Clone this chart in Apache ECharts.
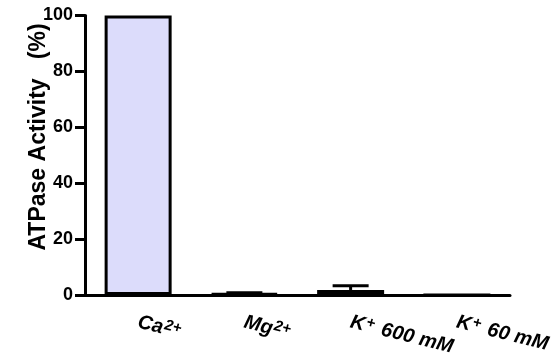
<!DOCTYPE html>
<html>
<head>
<meta charset="utf-8">
<script src="https://cdn.jsdelivr.net/npm/echarts@6/dist/echarts.min.js"></script>
<style>
html, body { margin: 0; padding: 0; background: #fff; }
#chart { width: 551px; height: 358px; }
</style>
</head>
<body>
<div id="chart"></div>
<script>
// 数据
var catBase = ['Ca', 'Mg', 'K', 'K'];
var catSup = ['2+', '2+', '+', '+'];
var catTail = ['', '', ' 600 mM', ' 60 mM'];
var activity = [100, 0.5, 1.8, 0];
var activityErr = [0, 0.3, 1.5, 0];
var yTicks = [0, 20, 40, 60, 80, 100];

var font = "'Liberation Sans', Arial, sans-serif";
var chart = echarts.init(document.getElementById('chart'));

var categories = [];
var errData = [];
for (var i = 0; i < catBase.length; i++) {
	categories.push(catBase[i] + catSup[i] + catTail[i]);
	errData.push([i, activity[i], activityErr[i]]);
}

// 误差线
function renderErr(params, api) {
	var e = api.value(2);
	if (!(e > 0)) return null;
	var base = api.coord([api.value(0), api.value(1)]);
	var top = api.coord([api.value(0), api.value(1) + e]);
	var lineStyle = {stroke: '#000', lineWidth: 3};
	return {
		type: 'group',
		children: [
			{type: 'line', shape: {x1: base[0], y1: base[1], x2: top[0], y2: top[1]}, style: lineStyle},
			{type: 'line', shape: {x1: top[0] - 18, y1: top[1], x2: top[0] + 18, y2: top[1]}, style: lineStyle}
		]
	};
}

var option = {
	animation: false,
	grid: {left: 85, right: 41, top: 15.5, bottom: 63, containLabel: false, outerBoundsMode: 'none'},
	xAxis: {
		type: 'category',
		data: categories,
		axisLine: {lineStyle: {color: '#000', width: 3}},
		axisTick: {alignWithLabel: true, length: 9, lineStyle: {color: '#000', width: 3}},
		axisLabel: {
			rotate: -14,
			margin: 27,
			formatter: function (v, idx) {
				return '{b|' + catBase[idx] + '}{s|' + catSup[idx] + '}{b|' + catTail[idx] + '}';
			},
			rich: {
				b: {fontFamily: font, fontWeight: 'bold', fontStyle: 'italic', fontSize: 20, lineHeight: 22, color: '#000'},
				s: {fontFamily: font, fontWeight: 'bold', fontStyle: 'italic', fontSize: 15, lineHeight: 15, verticalAlign: 'top', color: '#000', padding: [0, 2, 0, 1]}
			}
		}
	},
	yAxis: {
		type: 'value',
		min: yTicks[0],
		max: yTicks[yTicks.length - 1],
		interval: 20,
		splitLine: {show: false},
		axisLine: {show: true, lineStyle: {color: '#000', width: 3}},
		axisTick: {show: true, length: 10, lineStyle: {color: '#000', width: 3}},
		axisLabel: {margin: 12, color: '#000', fontFamily: font, fontWeight: 'bold', fontSize: 18}
	},
	graphic: [{
		type: 'text',
		x: 38.5,
		y: 137,
		rotation: Math.PI / 2,
		style: {
			text: 'ATPase Activity   (%)',
			font: 'bold 23px ' + font,
			fill: '#000',
			align: 'center',
			verticalAlign: 'middle'
		}
	}],
	series: [{
		type: 'bar',
		data: activity,
		barWidth: 67,
		itemStyle: {color: '#dcdcfb', borderColor: '#000', borderWidth: 3},
		z: 2
	}, {
		type: 'custom',
		data: errData,
		renderItem: renderErr,
		z: 3
	}]
};
chart.setOption(option);
</script>
</body>
</html>
